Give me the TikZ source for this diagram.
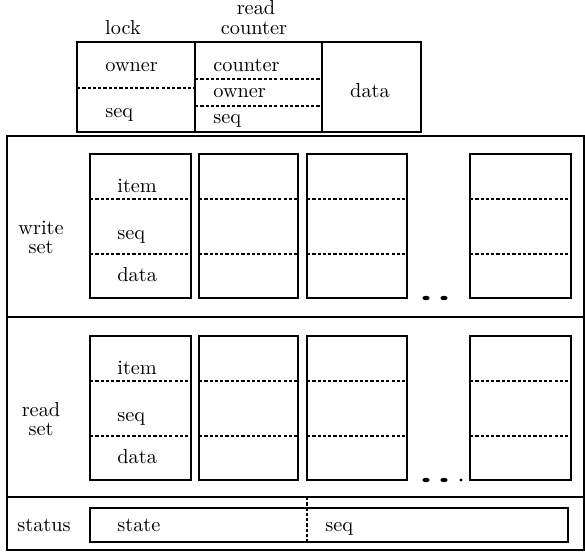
\documentclass[tikz,border=0pt]{standalone}
\begin{document}
\begin{tikzpicture}[x=0.4923pt,y=-0.4923pt,
  frame/.style={line width=0.8pt},
  sepline/.style={line width=0.7pt, dash pattern=on 1.6pt off 1pt},
  txt/.style={inner sep=0pt, anchor=base west},
  ctxt/.style={inner sep=0pt, anchor=base}]
\useasboundingbox (0,0) rectangle (585,554);
% ---------- header record ----------
\draw[frame] (77,42) rectangle (421,132);
\draw[frame] (195,42) -- (195,132);
\draw[frame] (322,42) -- (322,132);
\draw[sepline] (77,88) -- (195,88);
\draw[sepline] (195,79) -- (322,79);
\draw[sepline] (195,106) -- (322,106);
\node[ctxt] (lock) at (123,35) {lock};
\node[ctxt] (rcread) at (256,15) {read};
\node[ctxt] (rccounter) at (254,35) {counter};
\node[txt] (lowner) at (105,72) {owner};
\node[txt] (lseq) at (105,118) {seq};
\node[txt] (ccounter) at (213,72) {counter};
\node[txt] (cowner) at (213,98) {owner};
\node[txt] (cseq) at (213,124) {seq};
\node[ctxt] (hdata) at (370,98) {data};
% ---------- outer frame ----------
\draw[frame] (7,136) rectangle (584,550);
\draw[frame] (7,317) -- (584,317);
\draw[frame] (7,497) -- (584,497);
% ---------- write / read sets ----------
\foreach \s/\oy/\la in {w/0/write, r/182/read}{
  \foreach \xa/\xb in {90/191, 199/298, 307/407, 470/571}{
    \draw[frame] (\xa,154+\oy) rectangle (\xb,298+\oy);
    \draw[sepline] (\xa,199+\oy) -- (\xb,199+\oy);
    \draw[sepline] (\xa,254+\oy) -- (\xb,254+\oy);
  }
  \node[txt] (\s-item) at (117,193+\oy) {item};
  \node[txt] (\s-seq) at (117,240+\oy) {seq};
  \node[txt] (\s-data) at (117,282+\oy) {data};
  \node[ctxt] (\s-l1) at (41,235+\oy) {\la};
  \node[ctxt] (\s-l2) at (41,254+\oy) {set};
  \fill (426,298+\oy) ellipse [x radius=1.8pt, y radius=1.1pt];
  \fill (444,298+\oy) ellipse [x radius=1.8pt, y radius=1.1pt];
}
\fill (461,480) circle [radius=0.8pt];
% ---------- status ----------
\draw[frame] (90,508) rectangle (568,542);
\draw[sepline] (307,497) -- (307,542);
\node[txt] (status) at (17,532) {status};
\node[txt] (state) at (117,532) {state};
\node[txt] (sseq) at (325,532) {seq};
\end{tikzpicture}
\end{document}
